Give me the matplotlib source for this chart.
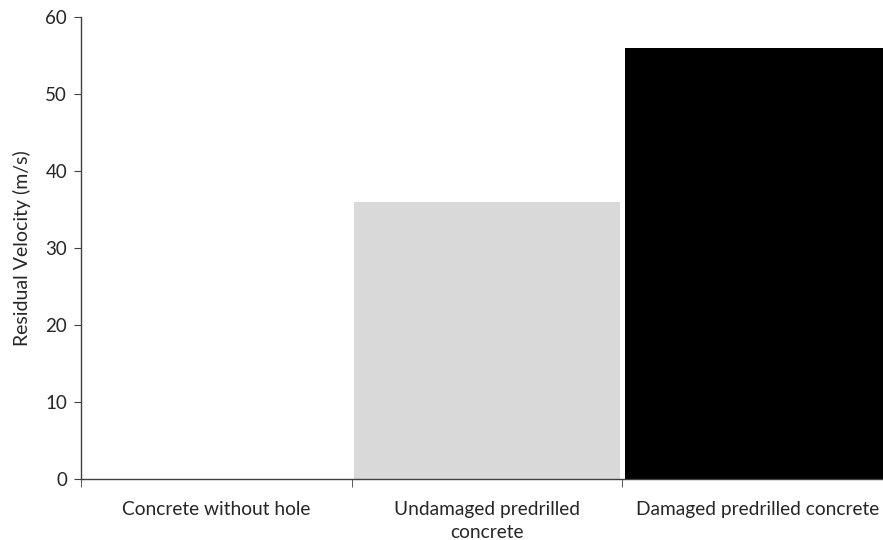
import matplotlib
matplotlib.use('Agg')
import matplotlib.pyplot as plt

# データ
categories = ['Concrete without hole', 'Undamaged predrilled\nconcrete', 'Damaged predrilled concrete']
values = [0, 36, 56]
colors = ['#ffffff', '#d9d9d9', '#000000']

plt.rcParams['font.family'] = ['Lato', 'DejaVu Sans']

fig = plt.figure(figsize=(8.83, 5.4), dpi=100)
ax = fig.add_axes([81 / 883, 61 / 540, 812 / 883, 462 / 540])

x = list(range(len(categories)))
ax.bar(x, values, width=0.98, color=colors, edgecolor='none')

ax.set_xlim(-0.5, 2.5)
ax.set_ylim(0, 60)
ax.set_yticks(range(0, 61, 10))
ax.set_xticks(x)
ax.set_xticklabels(categories, fontsize=13.8, color='#262626', linespacing=1.4)
ax.tick_params(axis='x', length=0, pad=16)
ax.set_xticks([-0.5, 0.5, 1.5, 2.5], minor=True)
ax.tick_params(axis='x', which='minor', length=6, direction='out', color='#404040')
ax.tick_params(axis='y', labelsize=13.5, labelcolor='#262626', length=5, color='#404040', pad=5)

ax.set_ylabel('Residual Velocity (m/s)', fontsize=14, color='#262626', labelpad=10)

for side in ['top', 'right']:
    ax.spines[side].set_visible(False)
for side in ['left', 'bottom']:
    ax.spines[side].set_color('#404040')
    ax.spines[side].set_linewidth(1.0)

fig.savefig('out.png', dpi=100)
